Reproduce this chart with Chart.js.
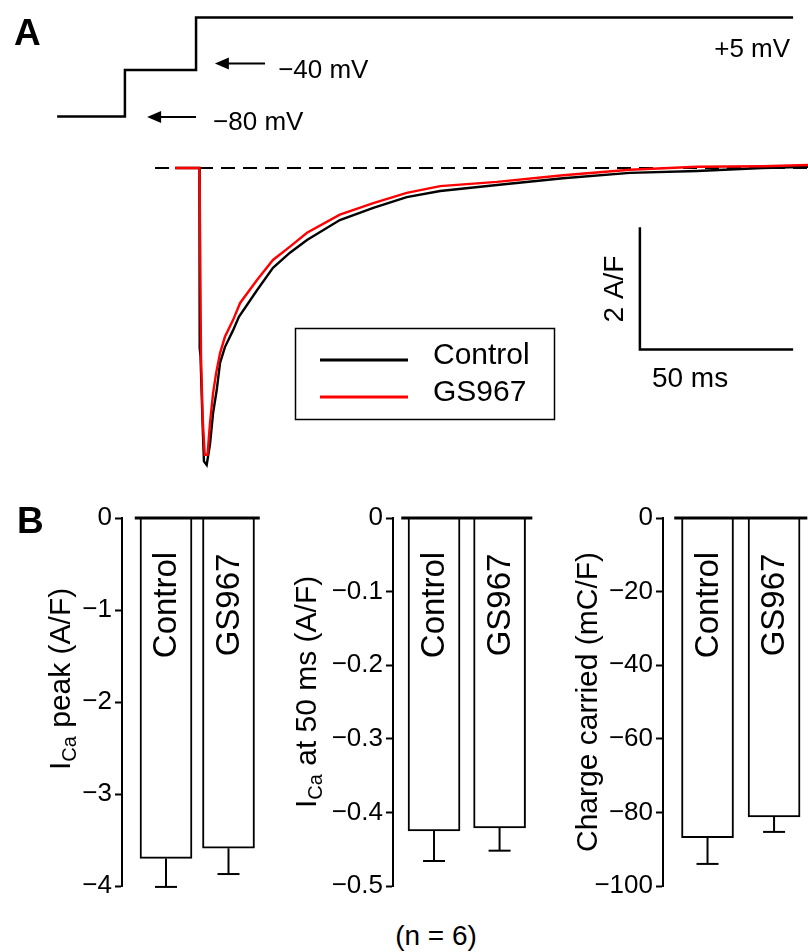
<!DOCTYPE html>
<html><head><meta charset="utf-8">
<script src="https://cdn.jsdelivr.net/npm/chart.js@4.4.0/dist/chart.umd.min.js"></script>
<style>
html,body{margin:0;padding:0;background:#fff;}
body{width:808px;height:952px;position:relative;overflow:hidden;font-family:"Liberation Sans",Arial,sans-serif;}
canvas{position:absolute;}
#nlab{position:absolute;left:336px;width:200px;text-align:center;top:922px;font-size:28px;line-height:28px;color:#000;}
</style></head><body>
<canvas id="cA" width="808" height="480" style="left:0;top:0"></canvas>
<canvas id="cB1" width="270" height="408" style="left:0;top:498px"></canvas>
<canvas id="cB2" width="273" height="408" style="left:270px;top:498px"></canvas>
<canvas id="cB3" width="265" height="408" style="left:543px;top:498px"></canvas>
<div id="nlab">(n = 6)</div>
<script>
// ---------- DATA ----------
// Panel A: voltage protocol (ms, mV)
const protocolTime    = [-47.0, -24.7, -24.7, -1.3, -1.3, 195.1];
const protocolVoltage = [-80, -80, -40, -40, 5, 5];
// Panel A: zero-current reference (ms, A/F)
const zeroTime    = [-14.8, 200];
const zeroCurrent = [0, 0];
// Panel A: Control current trace (ms, A/F)
const controlTime    = [-8.2, -0.2, -0.15, -0.05, 0.16, 0.9, 1.3, 2.2, 3.3, 4.3, 5.5, 6.6, 8.2, 10.9, 12.8, 18.75, 24, 29.6, 35.2, 46, 57, 68, 79, 97.7, 119.4, 141.4, 163.5, 185, 200];
const controlCurrent = [0, 0, -2.1, -2.98, -3.1, -4.3, -4.85, -4.91, -4.56, -4.05, -3.67, -3.22, -2.96, -2.68, -2.46, -2.02, -1.65, -1.40, -1.19, -0.86, -0.66, -0.48, -0.38, -0.28, -0.17, -0.08, -0.05, 0.0, 0.02];
// Panel A: GS967 current trace (ms, A/F)
const gsTime    = [-8.2, -0.16, 0.16, 0.33, 0.9, 1.55, 2.47, 3.3, 4.3, 5.3, 6.6, 8.2, 10.9, 13.2, 18.75, 24, 29.6, 35.2, 46, 57, 68, 79, 97.7, 119.4, 141.4, 163.5, 185, 200];
const gsCurrent = [0, 0, -1.97, -3.12, -4.16, -4.74, -4.74, -4.21, -3.72, -3.39, -3.06, -2.79, -2.51, -2.23, -1.85, -1.52, -1.30, -1.07, -0.77, -0.58, -0.41, -0.30, -0.23, -0.12, -0.03, 0.02, 0.03, 0.05];
const scaleBarMs = 50;
const scaleBarAF = 2;

// Panel B
const categories = ['Control', 'GS967'];
const peakMean = [-3.70, -3.59];
const peakSEM  = [0.31, 0.28];
const peakTicks = [0, -1, -2, -3, -4];
const peakTickLabels = ['0', '\u22121', '\u22122', '\u22123', '\u22124'];
const at50Mean = [-0.425, -0.421];
const at50SEM  = [0.041, 0.031];
const at50Ticks = [0, -0.1, -0.2, -0.3, -0.4, -0.5];
const at50TickLabels = ['0', '\u22120.1', '\u22120.2', '\u22120.3', '\u22120.4', '\u22120.5'];
const chargeMean = [-86.9, -81.2];
const chargeSEM  = [7.1, 4.1];
const chargeTicks = [0, -20, -40, -60, -80, -100];
const chargeTickLabels = ['0', '\u221220', '\u221240', '\u221260', '\u221280', '\u2212100'];

// ---------- RENDER ----------
const FONT = '"Liberation Sans", Arial, Helvetica, sans-serif';
const zip = (xs, ys) => xs.map((x, i) => ({x: x, y: ys[i]}));

function arrowLeft(ctx, xTip, xTail, y) {
  ctx.beginPath();
  ctx.moveTo(xTail, y); ctx.lineTo(xTip + 10, y);
  ctx.lineWidth = 2.2; ctx.stroke();
  ctx.beginPath();
  ctx.moveTo(xTip, y); ctx.lineTo(xTip + 14, y - 6); ctx.lineTo(xTip + 14, y + 6); ctx.closePath();
  ctx.fill();
}

const panelAPlugin = {
  id: 'panelA',
  afterDatasetsDraw(chart) {
    const ctx = chart.ctx, xs = chart.scales.x, yi = chart.scales.y, yv = chart.scales.yV;
    ctx.save();
    ctx.fillStyle = '#000'; ctx.strokeStyle = '#000';
    ctx.font = 'bold 37px ' + FONT;
    ctx.textAlign = 'left'; ctx.textBaseline = 'alphabetic';
    ctx.fillText('A', 14, 45);
    // protocol annotations
    ctx.font = '26px ' + FONT;
    const y80 = yv.getPixelForValue(-80), y40 = yv.getPixelForValue(-40), y5 = yv.getPixelForValue(5);
    arrowLeft(ctx, xs.getPixelForValue(-17.4), xs.getPixelForValue(-1.3), y80 + 0.5);
    ctx.fillText('\u221280 mV', xs.getPixelForValue(4.3), y80 + 13.5);
    arrowLeft(ctx, xs.getPixelForValue(4.9), xs.getPixelForValue(21.4), y40 - 6.4);
    ctx.fillText('\u221240 mV', xs.getPixelForValue(25.7), y40 + 7.6);
    ctx.textAlign = 'right';
    ctx.fillText('+5 mV', xs.getPixelForValue(194.1), y5 + 39.5);
    // scale bar
    const t0 = 144.7, i0 = -3.0;
    const sx0 = xs.getPixelForValue(t0), sx1 = xs.getPixelForValue(t0 + scaleBarMs);
    const sy0 = yi.getPixelForValue(i0), sy1 = yi.getPixelForValue(i0 + scaleBarAF);
    ctx.lineWidth = 2.5; ctx.lineCap = 'square';
    ctx.beginPath(); ctx.moveTo(sx0, sy1); ctx.lineTo(sx0, sy0); ctx.lineTo(sx1, sy0); ctx.stroke();
    ctx.lineCap = 'butt';
    ctx.font = '28px ' + FONT;
    ctx.textAlign = 'left'; ctx.textBaseline = 'alphabetic';
    ctx.fillText(scaleBarMs + ' ms', sx0 + 12, sy0 + 37);
    ctx.save();
    ctx.translate(sx0 - 27, (sy0 + sy1) / 2);
    ctx.rotate(-Math.PI / 2);
    ctx.textAlign = 'center'; ctx.textBaseline = 'alphabetic';
    ctx.fillText(scaleBarAF + ' A/F', 0, 10);
    ctx.restore();
    // legend
    ctx.lineWidth = 1.5;
    ctx.strokeRect(295.5, 328.5, 259, 91);
    ctx.lineWidth = 3;
    ctx.strokeStyle = '#000';
    ctx.beginPath(); ctx.moveTo(320, 360); ctx.lineTo(408, 360); ctx.stroke();
    ctx.strokeStyle = '#ff0000';
    ctx.beginPath(); ctx.moveTo(320, 397); ctx.lineTo(408, 397); ctx.stroke();
    ctx.font = '30px ' + FONT;
    ctx.textAlign = 'left';
    ctx.fillText(categories[0], 433, 364);
    ctx.fillText(categories[1], 433, 401);
    ctx.restore();
  }
};

new Chart(document.getElementById('cA'), {
  type: 'line',
  data: { datasets: [
    {label: 'GS967', data: zip(gsTime, gsCurrent), yAxisID: 'y', borderColor: '#ff0000', borderWidth: 2.4, pointRadius: 0, order: 0},
    {label: 'Control', data: zip(controlTime, controlCurrent), yAxisID: 'y', borderColor: '#000', borderWidth: 2.4, pointRadius: 0, order: 1},
    {label: 'zero', data: zip(zeroTime, zeroCurrent), yAxisID: 'y', borderColor: '#000', borderWidth: 2, borderDash: [14, 8], pointRadius: 0, order: 2},
    {label: 'protocol', data: zip(protocolTime, protocolVoltage), yAxisID: 'yV', borderColor: '#000', borderWidth: 2.5, borderJoinStyle: 'miter', pointRadius: 0, order: 3}
  ]},
  options: {
    responsive: false, animation: false, devicePixelRatio: 1,
    layout: {padding: 0},
    elements: {line: {tension: 0}},
    plugins: {legend: {display: false}, tooltip: {enabled: false}},
    scales: {
      x: {type: 'linear', display: false, min: -65.79, max: 200},
      y: {type: 'linear', display: false, min: -5.157, max: 2.777},
      yV: {type: 'linear', display: false, min: -392.1, max: 20.03}
    }
  },
  plugins: [panelAPlugin]
});

function drawRichRotated(ctx, parts, x, yStart) {
  ctx.save();
  ctx.translate(x, yStart);
  ctx.rotate(-Math.PI / 2);
  ctx.textAlign = 'left'; ctx.textBaseline = 'alphabetic';
  let pos = 0;
  parts.forEach(p => {
    ctx.font = p.size + 'px ' + FONT;
    ctx.fillText(p.text, pos, p.sub ? 6 : 0);
    pos += ctx.measureText(p.text).width;
  });
  ctx.restore();
}

const barPlugin = {
  id: 'barExtras',
  afterDatasetsDraw(chart) {
    const ctx = chart.ctx, xs = chart.scales.x, ys = chart.scales.y;
    const c = chart.config.options.plugins.barExtras;
    ctx.save();
    ctx.strokeStyle = '#000'; ctx.fillStyle = '#000';
    // error bars
    ctx.lineWidth = 2;
    c.mean.forEach((m, i) => {
      const x = xs.getPixelForValue(i);
      const y0 = ys.getPixelForValue(m), y1 = ys.getPixelForValue(m - c.sem[i]);
      ctx.beginPath(); ctx.moveTo(x, y0); ctx.lineTo(x, y1); ctx.stroke();
      ctx.beginPath(); ctx.moveTo(x - 11, y1); ctx.lineTo(x + 11, y1); ctx.stroke();
    });
    // zero line
    const yz = ys.getPixelForValue(0);
    ctx.lineWidth = 3;
    ctx.beginPath(); ctx.moveTo(xs.getPixelForValue(-0.5), yz); ctx.lineTo(xs.getPixelForValue(1.5), yz); ctx.stroke();
    // category labels inside bars
    ctx.font = '33px ' + FONT;
    categories.forEach((cat, i) => {
      ctx.save();
      ctx.translate(xs.getPixelForValue(i), yz + 87);
      ctx.rotate(-Math.PI / 2);
      ctx.textAlign = 'center'; ctx.textBaseline = 'middle';
      ctx.fillText(cat, 0, 1);
      ctx.restore();
    });
    // axis title
    drawRichRotated(ctx, c.title, c.titleX, c.titleY);
    if (c.letter) {
      ctx.font = 'bold 37px ' + FONT;
      ctx.textAlign = 'left'; ctx.textBaseline = 'alphabetic';
      ctx.fillText(c.letter, 17, 35);
    }
    ctx.restore();
  }
};

function makeBar(id, cfg) {
  new Chart(document.getElementById(id), {
    type: 'bar',
    data: { datasets: [{
      data: zip(categories.map((c, i) => i), cfg.mean),
      backgroundColor: '#fff', borderColor: '#000', borderWidth: 2,
      borderSkipped: 'start', barThickness: 52
    }]},
    options: {
      responsive: false, animation: false, devicePixelRatio: 1,
      layout: {padding: {top: 20, bottom: 20, left: 0, right: cfg.padRight}},
      plugins: {legend: {display: false}, tooltip: {enabled: false},
        barExtras: {mean: cfg.mean, sem: cfg.sem, title: cfg.title, titleX: cfg.titleX, titleY: cfg.titleY, letter: cfg.letter}},
      scales: {
        x: {type: 'linear', display: false, min: cfg.xMin, max: cfg.xMax, offset: false},
        y: {
          min: cfg.ticks[cfg.ticks.length - 1], max: cfg.ticks[0],
          afterFit(s) { s.width = cfg.axisWidth; },
          afterBuildTicks(s) { s.ticks = cfg.ticks.slice().reverse().map(v => ({value: v})); },
          ticks: {font: {family: FONT, size: 26}, color: '#000', padding: 3, autoSkip: false,
            callback: (v) => cfg.tickLabels[cfg.ticks.indexOf(v)]},
          grid: {drawOnChartArea: false, drawTicks: true, tickLength: 7, tickWidth: 2, tickColor: '#000', color: '#000'},
          border: {display: true, color: '#000', width: 2}
        }
      }
    },
    plugins: [barPlugin]
  });
}

makeBar('cB1', {mean: peakMean, sem: peakSEM, ticks: peakTicks, tickLabels: peakTickLabels,
  axisWidth: 122, padRight: 10, xMin: -0.704, xMax: 1.504, letter: 'B',
  title: [{text: 'I', size: 30}, {text: 'Ca', size: 20, sub: true}, {text: ' peak (A/F)', size: 30}], titleX: 70, titleY: 272});
makeBar('cB2', {mean: at50Mean, sem: at50SEM, ticks: at50Ticks, tickLabels: at50TickLabels,
  axisWidth: 123, padRight: 10, xMin: -0.626, xMax: 1.51,
  title: [{text: 'I', size: 30}, {text: 'Ca', size: 20, sub: true}, {text: ' at 50 ms (A/F)', size: 30}], titleX: 46, titleY: 310});
makeBar('cB3', {mean: chargeMean, sem: chargeSEM, ticks: chargeTicks, tickLabels: chargeTickLabels,
  axisWidth: 120, padRight: 0, xMin: -0.669, xMax: 1.51,
  title: [{text: 'Charge carried (mC/F)', size: 30}], titleX: 54, titleY: 354});
</script>
</body></html>
